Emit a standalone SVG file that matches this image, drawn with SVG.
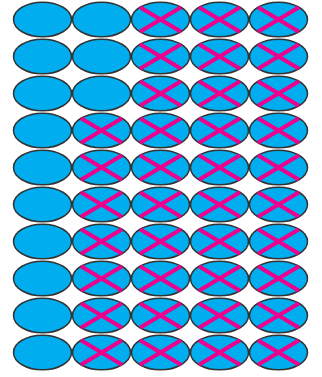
<svg xmlns="http://www.w3.org/2000/svg" xmlns:xlink="http://www.w3.org/1999/xlink" width="322" height="377" viewBox="0 0 322 377">
<style>
.e{fill:#00aeef;stroke:#333;stroke-width:1.5}
.x{stroke:#ec008c;stroke-width:4;stroke-linecap:butt}
</style>
<defs>
<g id="plain"><ellipse class="e" cx="0" cy="0" rx="29" ry="17.3"/></g>
<g id="crossed"><ellipse class="e" cx="0" cy="0" rx="29" ry="17.3"/><path class="x" d="M-20.5,-12.2L20.5,12.2M-20.5,12.2L20.5,-12.2"/></g>
</defs>
<rect width="322" height="377" fill="#fff"/>
<g id="r0">
<g id="n0_0"><use xlink:href="#plain" x="42.5" y="19.5"/></g>
<g id="n0_1"><use xlink:href="#plain" x="101.5" y="19.5"/></g>
<g id="n0_2"><use xlink:href="#crossed" x="160.5" y="19.5"/></g>
<g id="n0_3"><use xlink:href="#crossed" x="219.5" y="19.5"/></g>
<g id="n0_4"><use xlink:href="#crossed" x="278.5" y="19.5"/></g>
</g>
<g id="r1">
<g id="n1_0"><use xlink:href="#plain" x="42.5" y="56.5"/></g>
<g id="n1_1"><use xlink:href="#plain" x="101.5" y="56.5"/></g>
<g id="n1_2"><use xlink:href="#crossed" x="160.5" y="56.5"/></g>
<g id="n1_3"><use xlink:href="#crossed" x="219.5" y="56.5"/></g>
<g id="n1_4"><use xlink:href="#crossed" x="278.5" y="56.5"/></g>
</g>
<g id="r2">
<g id="n2_0"><use xlink:href="#plain" x="42.5" y="93.5"/></g>
<g id="n2_1"><use xlink:href="#plain" x="101.5" y="93.5"/></g>
<g id="n2_2"><use xlink:href="#crossed" x="160.5" y="93.5"/></g>
<g id="n2_3"><use xlink:href="#crossed" x="219.5" y="93.5"/></g>
<g id="n2_4"><use xlink:href="#crossed" x="278.5" y="93.5"/></g>
</g>
<g id="r3">
<g id="n3_0"><use xlink:href="#plain" x="42.5" y="130.5"/></g>
<g id="n3_1"><use xlink:href="#crossed" x="101.5" y="130.5"/></g>
<g id="n3_2"><use xlink:href="#crossed" x="160.5" y="130.5"/></g>
<g id="n3_3"><use xlink:href="#crossed" x="219.5" y="130.5"/></g>
<g id="n3_4"><use xlink:href="#crossed" x="278.5" y="130.5"/></g>
</g>
<g id="r4">
<g id="n4_0"><use xlink:href="#plain" x="42.5" y="167.5"/></g>
<g id="n4_1"><use xlink:href="#crossed" x="101.5" y="167.5"/></g>
<g id="n4_2"><use xlink:href="#crossed" x="160.5" y="167.5"/></g>
<g id="n4_3"><use xlink:href="#crossed" x="219.5" y="167.5"/></g>
<g id="n4_4"><use xlink:href="#crossed" x="278.5" y="167.5"/></g>
</g>
<g id="r5">
<g id="n5_0"><use xlink:href="#plain" x="42.5" y="204.5"/></g>
<g id="n5_1"><use xlink:href="#crossed" x="101.5" y="204.5"/></g>
<g id="n5_2"><use xlink:href="#crossed" x="160.5" y="204.5"/></g>
<g id="n5_3"><use xlink:href="#crossed" x="219.5" y="204.5"/></g>
<g id="n5_4"><use xlink:href="#crossed" x="278.5" y="204.5"/></g>
</g>
<g id="r6">
<g id="n6_0"><use xlink:href="#plain" x="42.5" y="241.5"/></g>
<g id="n6_1"><use xlink:href="#crossed" x="101.5" y="241.5"/></g>
<g id="n6_2"><use xlink:href="#crossed" x="160.5" y="241.5"/></g>
<g id="n6_3"><use xlink:href="#crossed" x="219.5" y="241.5"/></g>
<g id="n6_4"><use xlink:href="#crossed" x="278.5" y="241.5"/></g>
</g>
<g id="r7">
<g id="n7_0"><use xlink:href="#plain" x="42.5" y="278.5"/></g>
<g id="n7_1"><use xlink:href="#crossed" x="101.5" y="278.5"/></g>
<g id="n7_2"><use xlink:href="#crossed" x="160.5" y="278.5"/></g>
<g id="n7_3"><use xlink:href="#crossed" x="219.5" y="278.5"/></g>
<g id="n7_4"><use xlink:href="#crossed" x="278.5" y="278.5"/></g>
</g>
<g id="r8">
<g id="n8_0"><use xlink:href="#plain" x="42.5" y="315.5"/></g>
<g id="n8_1"><use xlink:href="#crossed" x="101.5" y="315.5"/></g>
<g id="n8_2"><use xlink:href="#crossed" x="160.5" y="315.5"/></g>
<g id="n8_3"><use xlink:href="#crossed" x="219.5" y="315.5"/></g>
<g id="n8_4"><use xlink:href="#crossed" x="278.5" y="315.5"/></g>
</g>
<g id="r9">
<g id="n9_0"><use xlink:href="#plain" x="42.5" y="352.5"/></g>
<g id="n9_1"><use xlink:href="#crossed" x="101.5" y="352.5"/></g>
<g id="n9_2"><use xlink:href="#crossed" x="160.5" y="352.5"/></g>
<g id="n9_3"><use xlink:href="#crossed" x="219.5" y="352.5"/></g>
<g id="n9_4"><use xlink:href="#crossed" x="278.5" y="352.5"/></g>
</g>
<g id="connectors"/>
</svg>
